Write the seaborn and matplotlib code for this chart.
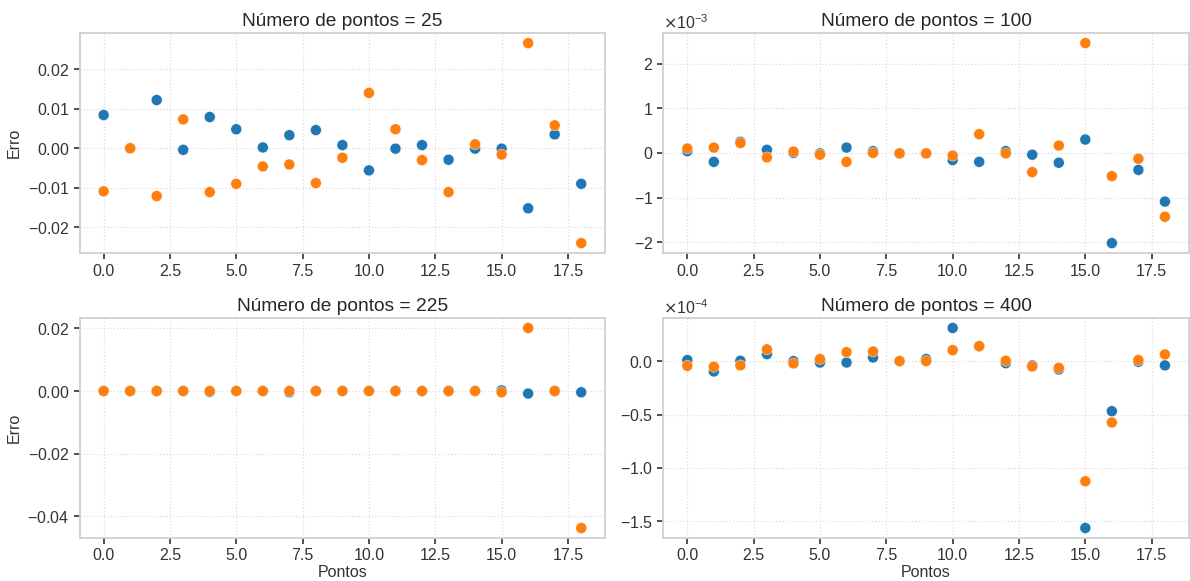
import numpy as np
import pandas as pd
import matplotlib
matplotlib.use("Agg")
import matplotlib.pyplot as plt
import seaborn as sns
from matplotlib.ticker import ScalarFormatter

pontos = list(range(19))
titulos = ["Número de pontos = 25", "Número de pontos = 100",
           "Número de pontos = 225", "Número de pontos = 400"]

# N = 25
erro_a_25 = [0.0084, 0.0, 0.0122, -0.0004, 0.0079, 0.0048, 0.0002, 0.0033, 0.0046, 0.0008,
             -0.0056, -0.0001, 0.0008, -0.0029, -0.0001, -0.0001, -0.0152, 0.0035, -0.0090]
erro_b_25 = [-0.0109, 0.0, -0.0121, 0.0073, -0.0111, -0.0090, -0.0046, -0.0041, -0.0088, -0.0024,
             0.0140, 0.0048, -0.0030, -0.0111, 0.0010, -0.0016, 0.0266, 0.0058, -0.0240]
# N = 100 (units of 1e-3)
erro_a_100 = [0.04, -0.20, 0.25, 0.07, 0.0, -0.01, 0.12, 0.04, -0.01, -0.01,
              -0.16, -0.20, 0.04, -0.04, -0.22, 0.30, -2.02, -0.38, -1.09]
erro_b_100 = [0.10, 0.12, 0.22, -0.10, 0.03, -0.04, -0.20, 0.0, -0.01, -0.01,
              -0.06, 0.42, -0.01, -0.43, 0.165, 2.46, -0.52, -0.13, -1.43]
# N = 225
erro_a_225 = [0.0, 0.0, 0.0, 0.0, -0.0003, 0.0, 0.0, -0.0004, 0.0, 0.0,
              0.0, 0.0, 0.0, 0.0, 0.0, 0.0002, -0.0008, 0.0, -0.0004]
erro_b_225 = [0.0, 0.0, 0.0, 0.0, 0.0, 0.0, 0.0, 0.0, 0.0, 0.0,
              0.0, 0.0, 0.0, 0.0, 0.0, -0.0004, 0.0201, 0.0, -0.0437]
# N = 400 (units of 1e-4)
erro_a_400 = [0.01, -0.097, 0.003, 0.066, 0.0, -0.013, -0.013, 0.034, 0.0, 0.019,
              0.31, 0.14, -0.019, -0.04, -0.078, -1.5625, -0.469, -0.006, -0.04]
erro_b_400 = [-0.044, -0.053, -0.04, 0.11, -0.022, 0.019, 0.084, 0.09, 0.0, 0.0,
              0.103, 0.14, 0.003, -0.05, -0.0625, -1.125, -0.575, 0.01, 0.0625]

escalas = [1.0, 1e-3, 1.0, 1e-4]
series = [(erro_a_25, erro_b_25), (erro_a_100, erro_b_100),
          (erro_a_225, erro_b_225), (erro_a_400, erro_b_400)]

sns.set_theme(style="whitegrid")
plt.rcParams.update({
    "font.family": ["Liberation Sans", "DejaVu Sans"],
    "axes.edgecolor": "#d0d0d0",
    "axes.linewidth": 1.3,
    "grid.color": "#dddddd",
    "grid.linestyle": ":",
    "grid.linewidth": 0.9,
    "xtick.bottom": True,
    "ytick.left": True,
    "xtick.color": "#333333",
    "ytick.color": "#333333",
    "xtick.major.size": 4,
    "ytick.major.size": 4,
    "xtick.major.width": 1.2,
    "ytick.major.width": 1.2,
    "xtick.labelsize": 11.5,
    "ytick.labelsize": 11.5,
    "axes.labelsize": 11.5,
    "axes.titlesize": 13.8,
    "text.color": "#262626",
    "axes.labelcolor": "#333333",
})

fig, axes = plt.subplots(2, 2, figsize=(11.9, 5.81), dpi=100)
fig.subplots_adjust(left=0.067, right=0.999, top=0.943, bottom=0.074,
                    wspace=0.111, hspace=0.295)

for i, ax in enumerate(axes.flat):
    a, b = series[i]
    sc = escalas[i]
    df = pd.DataFrame({
        "Pontos": pontos + pontos,
        "Erro": [v * sc for v in a] + [v * sc for v in b],
        "serie": ["a"] * len(pontos) + ["b"] * len(pontos),
    })
    sns.scatterplot(data=df, x="Pontos", y="Erro", hue="serie",
                    palette=["#1f77b4", "#ff7f0e"], s=62, linewidth=0.3,
                    edgecolor="white", legend=False, ax=ax)
    ax.set_title(titulos[i], pad=5)
    ax.set_xticks([0, 2.5, 5, 7.5, 10, 12.5, 15, 17.5])
    ax.set_xticklabels(["0.0", "2.5", "5.0", "7.5", "10.0", "12.5", "15.0", "17.5"])
    fmt = ScalarFormatter(useMathText=True)
    fmt.set_powerlimits((-3, 4))
    ax.yaxis.set_major_formatter(fmt)
    ax.yaxis.get_offset_text().set_fontsize(11.5)
    if i % 2 == 0:
        ax.set_ylabel("Erro")
    else:
        ax.set_ylabel("")
    if i >= 2:
        ax.set_xlabel("Pontos", labelpad=1)
    else:
        ax.set_xlabel("")
    for sp in ax.spines.values():
        sp.set_color("#d0d0d0")

axes[0, 0].set_yticks([-0.02, -0.01, 0.0, 0.01, 0.02])
axes[1, 0].set_yticks([-0.04, -0.02, 0.0, 0.02])
axes[1, 1].set_yticks([-1.5e-4, -1.0e-4, -0.5e-4, 0.0])

fig.savefig("out.png", dpi=100)
